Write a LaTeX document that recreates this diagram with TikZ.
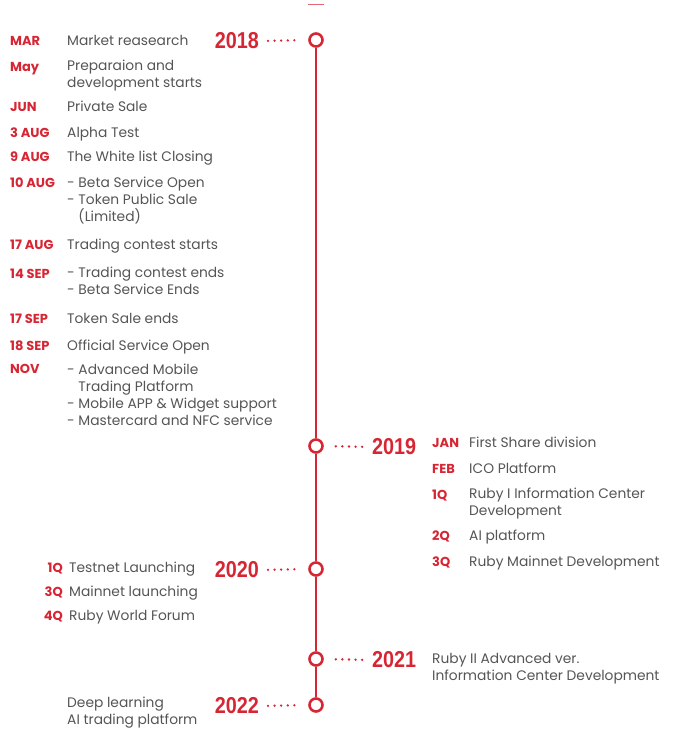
\documentclass[tikz,border=0pt]{standalone}
\usepackage{fontspec}
\setmainfont{Poppins}
\newfontfamily\yearfont[FakeStretch=0.86]{Liberation Sans}
\usetikzlibrary{positioning}

\definecolor{rubyred}{RGB}{214,38,52}
\definecolor{txtgray}{RGB}{85,85,85}

\tikzset{
  evt/.style={anchor=base west, inner sep=0pt, align=left, text=txtgray,
    font=\fontsize{13.8}{17}\selectfont},
  mon/.style={anchor=base west, inner sep=0pt, text=rubyred,
    font=\fontsize{13}{17}\selectfont\bfseries},
  yr/.style={inner sep=0pt, text=rubyred, font=\fontsize{23}{23}\yearfont\bfseries},
  ring/.style={circle, draw=rubyred, line width=2.6pt, fill=white,
    minimum size=13pt, inner sep=0pt},
  lead/.style={rubyred, line width=2.6pt, line cap=round,
    dash pattern=on 0pt off 6.6pt, shorten <=9pt, shorten >=12pt},
}

\begin{document}
\begin{tikzpicture}[x=1pt, y=-1pt]
  \useasboundingbox (0,0) rectangle (673,732);

  % timeline rings
  \node[ring] (c18) at (316,40) {};
  \node[ring] (c19) at (316,446) {};
  \node[ring] (c20) at (316,569) {};
  \node[ring] (c21) at (316,659) {};
  \node[ring] (c22) at (316,705) {};
  \draw[rubyred, line width=2pt] (c18) -- (c19) -- (c20) -- (c21) -- (c22);

  % small mark on top
  \coordinate (ma) at (308,4);
  \coordinate (mb) at (324,4);
  \draw[rubyred!70, line width=1pt] (ma) -- (mb);

  % years
  \node[yr, anchor=east] (y18) at (259,41) {2018};
  \node[yr, anchor=west] (y19) at (372,447) {2019};
  \node[yr, anchor=east] (y20) at (259,570) {2020};
  \node[yr, anchor=west] (y21) at (372,660) {2021};
  \node[yr, anchor=east] (y22) at (259,706) {2022};
  \draw[lead] (y18.east) -- (c18.west);
  \draw[lead, shorten <=12pt, shorten >=9pt] (c19.east) -- (y19.west);
  \draw[lead] (y20.east) -- (c20.west);
  \draw[lead, shorten <=12pt, shorten >=9pt] (c21.east) -- (y21.west);
  \draw[lead] (y22.east) -- (c22.west);

  % 2018 (multi-line texts sit on their last line)
  \node[mon] (m1) at (10,45) {MAR};
  \node[evt] (e1) at (67,45) {Market reasearch};
  \node[mon] (m2) at (10,71) {May};
  \node[evt] (e2) at (67,87) {Preparaion and\\development starts};
  \node[mon] (m3) at (10,111) {JUN};
  \node[evt] (e3) at (67,111) {Private Sale};
  \node[mon] (m4) at (10,137) {3 AUG};
  \node[evt] (e4) at (67,137) {Alpha Test};
  \node[mon] (m5) at (10,161) {9 AUG};
  \node[evt] (e5) at (67,161) {The White list Closing};
  \node[mon] (m6) at (10,187) {10 AUG};
  \node[evt] (e6) at (67,221) {- Beta Service Open\\- Token Public Sale\\\hphantom{- }(Limited)};
  \node[mon] (m7) at (10,249) {17 AUG};
  \node[evt] (e7) at (67,249) {Trading contest starts};
  \node[mon] (m8) at (10,278) {14 SEP};
  \node[evt] (e8) at (67,294) {- Trading contest ends\\- Beta Service Ends};
  \node[mon] (m9) at (10,323) {17 SEP};
  \node[evt] (e9) at (67,323) {Token Sale ends};
  \node[mon] (m10) at (10,350) {18 SEP};
  \node[evt] (e10) at (67,350) {Official Service Open};
  \node[mon] (m11) at (10,373) {NOV};
  \node[evt] (e11) at (67,425) {- Advanced Mobile\\\hphantom{- }Trading Platform\\- Mobile APP \& Widget support\\- Mastercard and NFC service};

  % 2019
  \node[mon] (n1) at (432,447) {JAN};
  \node[evt] (f1) at (469,447) {First Share division};
  \node[mon] (n2) at (432,473) {FEB};
  \node[evt] (f2) at (469,473) {ICO Platform};
  \node[mon] (n3) at (432,499) {1Q};
  \node[evt] (f3) at (469,515) {Ruby I Information Center\\Development};
  \node[mon] (n4) at (432,540) {2Q};
  \node[evt] (f4) at (469,540) {AI platform};
  \node[mon] (n5) at (432,566) {3Q};
  \node[evt] (f5) at (469,566) {Ruby Mainnet Development};

  % 2020
  \node[mon, anchor=base east] (q1) at (63,572) {1Q};
  \node[evt] (g1) at (69,572) {Testnet Launching};
  \node[mon, anchor=base east] (q2) at (63,596) {3Q};
  \node[evt] (g2) at (69,596) {Mainnet launching};
  \node[mon, anchor=base east] (q3) at (63,620) {4Q};
  \node[evt] (g3) at (69,620) {Ruby World Forum};

  % 2021
  \node[evt] (h1) at (432,680) {Ruby II Advanced ver.\\Information Center Development};

  % 2022
  \node[evt] (k1) at (67,724) {Deep learning\\AI trading platform};
\end{tikzpicture}
\end{document}
